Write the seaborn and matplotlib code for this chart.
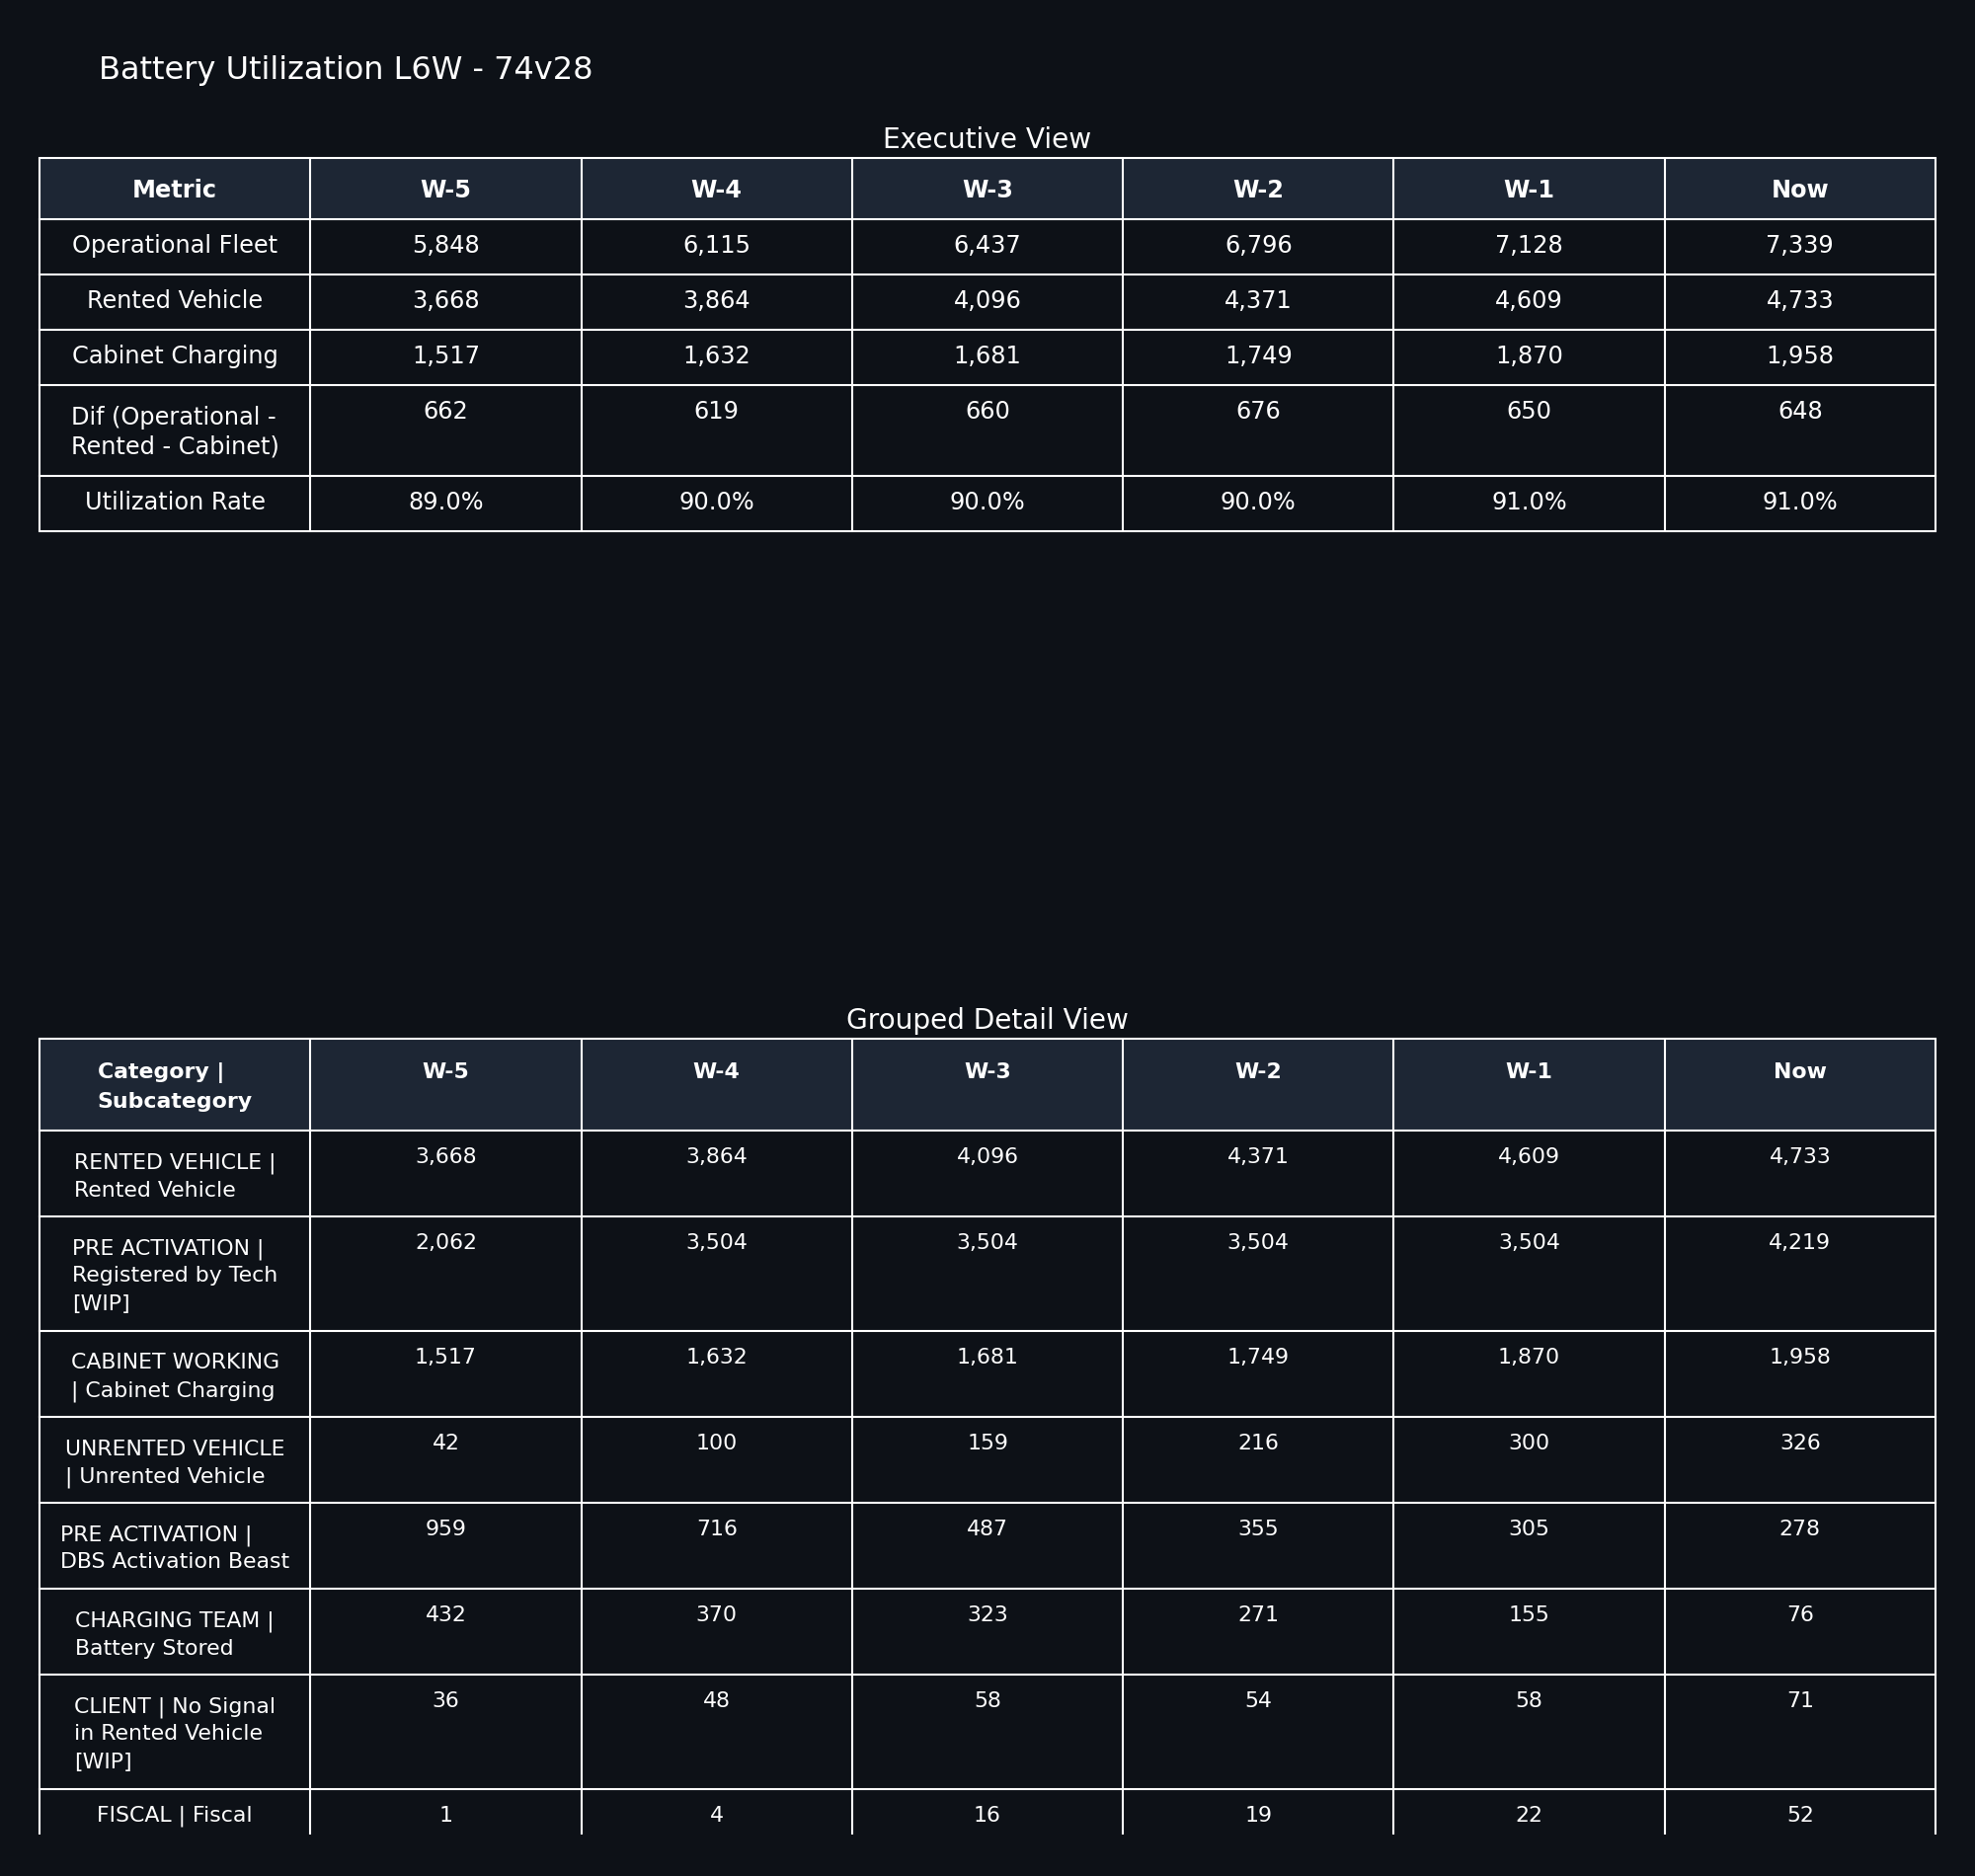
import matplotlib
matplotlib.use("Agg")
import matplotlib.pyplot as plt
import seaborn as sns
import pandas as pd

# ---------------- data ----------------
TITLE = "Battery Utilization L6W - 74v28"
EXEC_TITLE = "Executive View"
DETAIL_TITLE = "Grouped Detail View"
WEEKS = ["W-5", "W-4", "W-3", "W-2", "W-1", "Now"]

EXEC_HEADER = "Metric"
EXEC_METRICS = ["Operational Fleet", "Rented Vehicle", "Cabinet Charging",
                "Dif (Operational -\nRented - Cabinet)", "Utilization Rate"]
OPERATIONAL_FLEET = [5848, 6115, 6437, 6796, 7128, 7339]
RENTED_VEHICLE = [3668, 3864, 4096, 4371, 4609, 4733]
CABINET_CHARGING = [1517, 1632, 1681, 1749, 1870, 1958]
DIF_OPERATIONAL = [662, 619, 660, 676, 650, 648]
UTILIZATION_RATE = [89.0, 90.0, 90.0, 90.0, 91.0, 91.0]

DETAIL_HEADER = "Category |\nSubcategory"
DETAIL_CATEGORIES = [
    "RENTED VEHICLE |\nRented Vehicle",
    "PRE ACTIVATION |\nRegistered by Tech\n[WIP]",
    "CABINET WORKING\n| Cabinet Charging",
    "UNRENTED VEHICLE\n| Unrented Vehicle",
    "PRE ACTIVATION |\nDBS Activation Beast",
    "CHARGING TEAM |\nBattery Stored",
    "CLIENT | No Signal\nin Rented Vehicle\n[WIP]",
    "FISCAL | Fiscal",
]
D_RENTED_VEHICLE = [3668, 3864, 4096, 4371, 4609, 4733]
D_REGISTERED_BY_TECH = [2062, 3504, 3504, 3504, 3504, 4219]
D_CABINET_CHARGING = [1517, 1632, 1681, 1749, 1870, 1958]
D_UNRENTED_VEHICLE = [42, 100, 159, 216, 300, 326]
D_DBS_ACTIVATION = [959, 716, 487, 355, 305, 278]
D_BATTERY_STORED = [432, 370, 323, 271, 155, 76]
D_NO_SIGNAL = [36, 48, 58, 54, 58, 71]
D_FISCAL = [1, 4, 16, 19, 22, 52]

# ---------------- tables ----------------
exec_df = pd.DataFrame(
    [OPERATIONAL_FLEET, RENTED_VEHICLE, CABINET_CHARGING, DIF_OPERATIONAL, UTILIZATION_RATE],
    index=EXEC_METRICS, columns=WEEKS)
exec_text = [[f"{v:,.0f}" for v in exec_df.loc[m]] for m in EXEC_METRICS[:-1]]
exec_text.append([f"{v:.1f}%" for v in exec_df.loc[EXEC_METRICS[-1]]])

detail_df = pd.DataFrame(
    [D_RENTED_VEHICLE, D_REGISTERED_BY_TECH, D_CABINET_CHARGING, D_UNRENTED_VEHICLE,
     D_DBS_ACTIVATION, D_BATTERY_STORED, D_NO_SIGNAL, D_FISCAL],
    index=DETAIL_CATEGORIES, columns=WEEKS)
detail_text = [[f"{v:,.0f}" for v in detail_df.loc[c]] for c in DETAIL_CATEGORIES]

# ---------------- style ----------------
BG = "#0d1117"
HEADER_BG = "#1d2634"
LINE = "#ffffff"
TXT = "#ffffff"

sns.set_theme(style="dark", rc={"figure.facecolor": BG, "axes.facecolor": BG,
                                "savefig.facecolor": BG})
plt.rcParams["font.family"] = ["DejaVu Sans"]

W, H = 2000, 1900
fig = plt.figure(figsize=(W / 100, H / 100), dpi=100)
ax = fig.add_axes([0, 0, 1, 1])
ax.set_xlim(0, W)
ax.set_ylim(H, 0)
ax.axis("off")
renderer = fig.canvas.get_renderer()

PX = 0.72  # px -> pt at 100 dpi
X0, X1 = 40, 1960
NCOL = 7
col_edges = [X0 + (X1 - X0) * i / NCOL for i in range(NCOL + 1)]


def text_width(s, size, weight):
    t = ax.text(0, 0, s, fontsize=size, fontweight=weight)
    w = t.get_window_extent(renderer).width
    t.remove()
    return w


def block_text(cx, y_first, s, size, weight, pitch):
    lines = s.split("\n")
    if len(lines) == 1:
        ax.text(cx, y_first, s, ha="center", va="baseline", fontsize=size,
                fontweight=weight, color=TXT)
        return
    maxw = max(text_width(l, size, weight) for l in lines)
    for i, l in enumerate(lines):
        ax.text(cx - maxw / 2, y_first + i * pitch, l, ha="left", va="baseline",
                fontsize=size, fontweight=weight, color=TXT)


def draw_table(top, header_first, header_cells, labels, values, fpx, hdr_h,
               base_h, line_h, hdr_off, off1, offm, pitch, clip_y=None):
    size = fpx * PX
    # header
    ax.fill_between([X0, X1], top, top + hdr_h, color=HEADER_BG, lw=0)
    cells = [header_first] + header_cells
    for j, c in enumerate(cells):
        cx = (col_edges[j] + col_edges[j + 1]) / 2
        block_text(cx, top + hdr_off, c, size, "bold", pitch + 2)
    ys = [top, top + hdr_h]
    y = top + hdr_h
    for lab, vals in zip(labels, values):
        n = lab.count("\n") + 1
        h = base_h + line_h * (n - 1)
        cx0 = (col_edges[0] + col_edges[1]) / 2
        block_text(cx0, y + (off1 if n == 1 else offm), lab, size, "normal", pitch)
        for j, v in enumerate(vals):
            cx = (col_edges[j + 1] + col_edges[j + 2]) / 2
            ax.text(cx, y + off1, v, ha="center", va="baseline", fontsize=size,
                    color=TXT)
        y += h
        ys.append(y)
    bottom = y if clip_y is None else min(y, clip_y)
    for yy in ys:
        if yy <= bottom + 0.1:
            ax.plot([X0, X1], [yy, yy], color=LINE, lw=1.5, solid_capstyle="projecting")
    for xx in col_edges:
        ax.plot([xx, xx], [top, bottom], color=LINE, lw=1.5, solid_capstyle="butt")


# title
ax.text(100, 80, TITLE, ha="left", va="baseline", fontsize=32 * PX, color=TXT)

# executive view
ax.text(1000, 150, EXEC_TITLE, ha="center", va="baseline", fontsize=28 * PX, color=TXT)
draw_table(160, EXEC_HEADER, WEEKS, EXEC_METRICS, exec_text, fpx=24,
           hdr_h=61.7, base_h=56.0, line_h=36.7, hdr_off=40, off1=34, offm=40,
           pitch=30)

# grouped detail view
ax.text(1000, 1042, DETAIL_TITLE, ha="center", va="baseline", fontsize=28 * PX, color=TXT)
draw_table(1052, DETAIL_HEADER, WEEKS, DETAIL_CATEGORIES, detail_text, fpx=22,
           hdr_h=93, base_h=58, line_h=29, hdr_off=40, off1=33, offm=38.5,
           pitch=28, clip_y=1858)

fig.savefig("out.png", dpi=100, facecolor=BG)
